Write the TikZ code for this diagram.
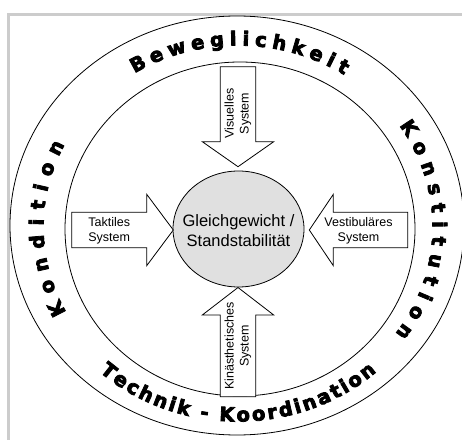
\documentclass[tikz,border=0pt]{standalone}
\usepackage{fontspec}
\setmainfont{Liberation Sans}
\newfontfamily\heavyfont{DejaVu Sans Bold}[FakeBold=4]
\usetikzlibrary{decorations.text,shapes.geometric}
\definecolor{framegray}{RGB}{204,204,204}
\definecolor{corefill}{RGB}{224,224,224}
\begin{document}
\begin{tikzpicture}[x=1pt,y=1pt,
  ring/.style={draw=black,line width=0.8pt},
  arrowshape/.style={draw=black,fill=white,line width=0.8pt,line join=miter},
  arrowlabel/.style={font=\fontsize{12.5}{15}\selectfont,align=center,inner sep=0pt},
  bandtext/.style={decorate,decoration={text along path,text align={fit to path},raise=-6.5pt,
     text={|\heavyfont\fontsize{19.5}{19.5}\selectfont|#1}}}
]
\useasboundingbox (0,0) rectangle (462,439);
% frame
\draw[framegray,line width=2.8pt] (8.3,-3) -- (8.3,424.3) -- (468,424.3);
% rings
\draw[ring] (237,213.5) ellipse [x radius=227pt,y radius=209.5pt];
\draw[ring] (240,210) ellipse [x radius=175pt,y radius=167pt];
% centre
\draw[ring,fill=corefill] (238.5,210) ellipse [x radius=65.5pt,y radius=58pt];
\node[inner sep=0pt,align=center,font=\fontsize{16.5}{19.5}\selectfont] (core) at (238.5,208.5)
  {Gleichgewicht /\\Standstabilität};
% arrows
\draw[arrowshape] (220.3,372.3) -- (255.7,372.3) -- (255.7,297.3) -- (273.7,297.3)
  -- (238,272.3) -- (202.3,297.3) -- (220.3,297.3) -- cycle;
\draw[arrowshape] (220.3,42.3) -- (255.7,42.3) -- (255.7,124) -- (273.7,124)
  -- (238,151.5) -- (202.3,124) -- (220.3,124) -- cycle;
\draw[arrowshape] (71.7,191.3) -- (71.7,226.7) -- (146.7,226.7) -- (146.7,244.7)
  -- (173.3,209) -- (146.7,173.3) -- (146.7,191.3) -- cycle;
\draw[arrowshape] (407.7,191.3) -- (407.7,226.7) -- (333.3,226.7) -- (333.3,244.7)
  -- (309.3,209) -- (333.3,173.3) -- (333.3,191.3) -- cycle;
% arrow labels
\node[arrowlabel,rotate=90] (vis) at (238,325.5) {Visuelles\\System};
\node[arrowlabel,rotate=90] (kin) at (238,93) {Kinästhetisches\\System};
\node[arrowlabel] (tak) at (109.2,208.5) {Taktiles\\System};
\node[arrowlabel] (ves) at (358.5,208.5) {Vestibuläres\\System};
% band texts
\path[bandtext=Beweglichkeit] ([shift={(238,212)}]122:201pt and 188pt)
  arc[start angle=122,end angle=57,x radius=201pt,y radius=188pt];
\path[bandtext=Konstitution] ([shift={(238,212)}]34:201pt and 188pt)
  arc[start angle=34,end angle=-36,x radius=201pt,y radius=188pt];
\path[bandtext=Kondition] ([shift={(238,212)}]208:201pt and 188pt)
  arc[start angle=208,end angle=153,x radius=201pt,y radius=188pt];
\path[bandtext={Technik - Koordination}] ([shift={(238,212)}]228:201pt and 188pt)
  arc[start angle=228,end angle=312,x radius=201pt,y radius=188pt];
\end{tikzpicture}
\end{document}
